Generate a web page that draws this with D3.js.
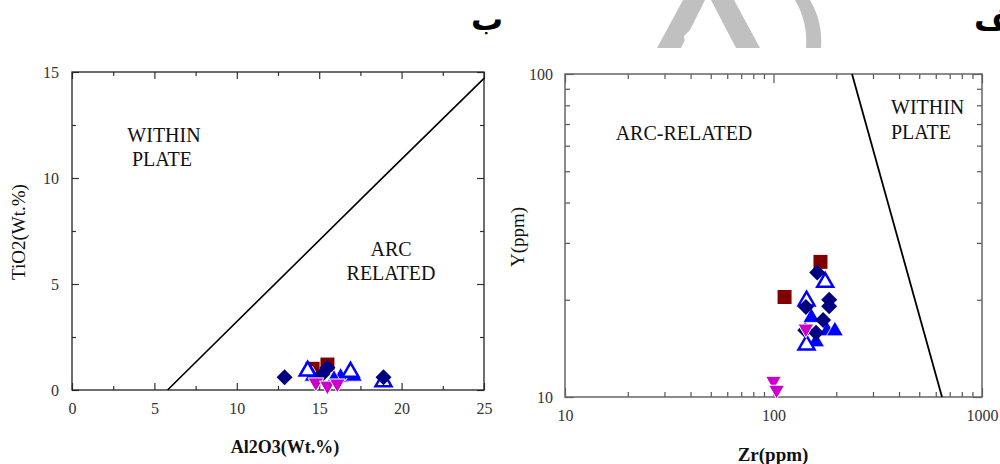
<!DOCTYPE html>
<html><head><meta charset="utf-8">
<script src="https://cdn.jsdelivr.net/npm/d3@7"></script>
<style>body{margin:0;background:#fff}svg{display:block}
.serif{font-family:"Liberation Serif","Times New Roman",Times,"DejaVu Serif",serif}
.fa{font-family:"DejaVu Sans","Noto Sans",sans-serif;font-weight:bold}
</style>
</head><body>
<svg id="c" width="1000" height="464"></svg>
<script>
// ---------- DATA ----------
// Left diagram: Al2O3 vs TiO2
const leftXTicks = [0,5,10,15,20,25];
const leftYTicks = [0,5,10,15];
const leftBoundary = [[5.8,0],[18.7,9.9],[25,14.7]];
const leftSquares = [[14.6,1.0],[15.5,1.2]];
const leftDiamonds = [[12.9,0.6],[18.9,0.6],[15.5,1.05],[15.2,0.75]];
const leftTrianglesFilled = [[14.6,0.6],[16.3,0.55],[17.1,0.6],[15.9,0.45]];
const leftTrianglesOpen = [[14.3,0.85],[16.9,0.8],[18.9,0.35]];
const leftInverted = [[14.8,0.4],[15.5,0.25],[16.1,0.35]];

// Right diagram: Zr vs Y (log-log)
const rightXTicks = [10,100,1000];
const rightYTicks = [10,100];
const rightBoundary = [[238,100],[643,10]];
const rightSquares = [[168,26.2],[113,20.4]];
const rightDiamonds = [[162,24.3],[185,20.0],[185,19.1],[173,17.3],[142,16.1],[160,15.8],[143,19.0]];
const rightTrianglesFilled = [[152,17.5],[181,15.9],[197,15.9],[160,14.7]];
const rightTrianglesOpen = [[177,22.5],[144,19.7],[144,14.4]];
const rightInverted = [[143,16.4],[100,11.3],[103.5,10.6]];

const svg = d3.select("#c");
const C = {sq:"#800000", di:"#000080", tri:"#0000ff", inv:"#cc00cc"};

// watermark
const wm = svg.append("g").attr("fill","#c0c0c0");
wm.append("path").attr("d","M657,48 L681,48 L705,0 L683,0 Z");
wm.append("path").attr("d","M711,0 L734,0 L760,48 L736,48 Z");
wm.append("path").attr("d","M795,0 L810,0 Q823,22 821,48 L806,48 Q808,22 795,0 Z");
wm.append("path").attr("d","M684,36 L690,30 L693,48 L686,48 Z").attr("fill","#fff");

// Persian panel labels
svg.append("text").attr("class","fa").attr("x",487).attr("y",30).attr("text-anchor","middle").attr("font-size",32).text("ب");
svg.append("text").attr("class","fa").attr("x",974).attr("y",30).attr("text-anchor","start").attr("font-size",32).text("الف");

function markers(g, x, y, sq, di, trf, tro, inv){
  g.selectAll(".sq").data(sq).join("path").attr("class","sq")
    .attr("d", d3.symbol(d3.symbolSquare, 196)())
    .attr("transform", d=>`translate(${x(d[0])},${y(d[1])})`).attr("fill",C.sq);
  g.selectAll(".trf").data(trf).join("path").attr("class","trf")
    .attr("d", d3.symbol(d3.symbolTriangle, 125)())
    .attr("transform", d=>`translate(${x(d[0])},${y(d[1])-1})`).attr("fill",C.tri).attr("stroke","#fff").attr("stroke-width",0.8);
  g.selectAll(".tro").data(tro).join("path").attr("class","tro")
    .attr("d", d3.symbol(d3.symbolTriangle, 110)())
    .attr("transform", d=>`translate(${x(d[0])},${y(d[1])-1})`).attr("fill","#fff").attr("stroke",C.tri).attr("stroke-width",2.5);
  g.selectAll(".di").data(di).join("path").attr("class","di")
    .attr("d", d3.symbol(d3.symbolSquare, 128)())
    .attr("transform", d=>`translate(${x(d[0])},${y(d[1])}) rotate(45)`).attr("fill",C.di);
  g.selectAll(".inv").data(inv).join("path").attr("class","inv")
    .attr("d", d3.symbol(d3.symbolTriangle, 110)())
    .attr("transform", d=>`translate(${x(d[0])},${y(d[1])+1}) rotate(180)`).attr("fill",C.inv).attr("stroke","#fff").attr("stroke-width",1);
}

function styleAxis(g, showLabels, col){
  g.select(".domain").remove();
  g.selectAll(".tick line").attr("stroke",col||"#333").attr("stroke-width",1.2);
  g.selectAll(".tick text").attr("class","serif").attr("font-family",null).attr("font-size",16).attr("fill","#333");
  if(!showLabels) g.selectAll(".tick text").remove();
}
function label(g,s,xx,yy,anc,bold,size){
  return g.append("text").attr("class","serif").attr("x",xx).attr("y",yy).attr("text-anchor",anc||"middle")
    .attr("font-size",size||20).attr("font-weight",bold?"bold":"normal").attr("fill","#111").text(s);
}

// ---------- LEFT ----------
{
  const x = d3.scaleLinear().domain([0,25]).range([72,484]);
  const y = d3.scaleLinear().domain([0,15]).range([390,72]);
  const g = svg.append("g");
  const minorX = d3.range(2.5,25,5), minorY = d3.range(2.5,15,5);
  g.append("g").attr("transform","translate(0,390)").call(d3.axisBottom(x).tickValues(leftXTicks).tickSize(-7).tickPadding(13)).call(a=>styleAxis(a,true));
  g.append("g").attr("transform","translate(0,390)").call(d3.axisBottom(x).tickValues(minorX).tickSize(-4)).call(a=>styleAxis(a,false));
  g.append("g").attr("transform","translate(0,72)").call(d3.axisTop(x).tickValues(leftXTicks).tickSize(-7)).call(a=>styleAxis(a,false));
  g.append("g").attr("transform","translate(0,72)").call(d3.axisTop(x).tickValues(minorX).tickSize(-4)).call(a=>styleAxis(a,false));
  g.append("g").attr("transform","translate(72,0)").call(d3.axisLeft(y).tickValues(leftYTicks).tickSize(-7).tickPadding(13)).call(a=>styleAxis(a,true));
  g.append("g").attr("transform","translate(72,0)").call(d3.axisLeft(y).tickValues(minorY).tickSize(-4)).call(a=>styleAxis(a,false));
  g.append("g").attr("transform","translate(484,0)").call(d3.axisRight(y).tickValues(leftYTicks).tickSize(-7)).call(a=>styleAxis(a,false));
  g.append("g").attr("transform","translate(484,0)").call(d3.axisRight(y).tickValues(minorY).tickSize(-4)).call(a=>styleAxis(a,false));
  g.append("rect").attr("x",72).attr("y",72).attr("width",412).attr("height",318).attr("fill","none").attr("stroke","#222").attr("stroke-width",1.3);
  g.append("path").attr("d", d3.line().x(d=>x(d[0])).y(d=>y(d[1]))(leftBoundary)).attr("fill","none").attr("stroke","#000").attr("stroke-width",1.6);
  label(g,"WITHIN",164,142); label(g,"PLATE",162,166); label(g,"ARC",391,256); label(g,"RELATED",391,280);
  markers(g.append("g"), x, y, leftSquares, leftDiamonds, leftTrianglesFilled, leftTrianglesOpen, leftInverted);
  label(g,"Al2O3(Wt.%)",285,453,"middle",true,18);
  label(g,"TiO2(Wt.%)",0,0,"middle",false,19).attr("x",null).attr("y",null).attr("transform","translate(25,232) rotate(-90)");
}

// ---------- RIGHT ----------
{
  const x = d3.scaleLog().domain([10,1000]).range([565,982]);
  const y = d3.scaleLog().domain([10,100]).range([397,74]);
  const g = svg.append("g");
  const minorX = [20,30,40,50,60,70,80,90,200,300,400,500,600,700,800,900];
  const minorY = [20,30,40,50,60,70,80,90];
  const tc = "#555";
  g.append("g").attr("transform","translate(0,397)").call(d3.axisBottom(x).tickValues(rightXTicks).tickFormat(d3.format("d")).tickSize(-9).tickPadding(13)).call(a=>styleAxis(a,true,tc));
  g.append("g").attr("transform","translate(0,397)").call(d3.axisBottom(x).tickValues(minorX).tickSize(-5)).call(a=>styleAxis(a,false,tc));
  g.append("g").attr("transform","translate(0,74)").call(d3.axisTop(x).tickValues(rightXTicks).tickSize(-9)).call(a=>styleAxis(a,false,tc));
  g.append("g").attr("transform","translate(0,74)").call(d3.axisTop(x).tickValues(minorX).tickSize(-5)).call(a=>styleAxis(a,false,tc));
  g.append("g").attr("transform","translate(565,0)").call(d3.axisLeft(y).tickValues(rightYTicks).tickFormat(d3.format("d")).tickSize(-9).tickPadding(12)).call(a=>styleAxis(a,true,tc));
  g.append("g").attr("transform","translate(565,0)").call(d3.axisLeft(y).tickValues(minorY).tickSize(-5)).call(a=>styleAxis(a,false,tc));
  g.append("g").attr("transform","translate(982,0)").call(d3.axisRight(y).tickValues(rightYTicks).tickSize(-9)).call(a=>styleAxis(a,false,tc));
  g.append("g").attr("transform","translate(982,0)").call(d3.axisRight(y).tickValues(minorY).tickSize(-5)).call(a=>styleAxis(a,false,tc));
  g.append("rect").attr("x",565).attr("y",74).attr("width",417).attr("height",323).attr("fill","none").attr("stroke","#666").attr("stroke-width",1.5);
  g.append("path").attr("d", d3.line().x(d=>x(d[0])).y(d=>y(d[1]))(rightBoundary)).attr("fill","none").attr("stroke","#000").attr("stroke-width",1.8);
  label(g,"ARC-RELATED",684,140); label(g,"WITHIN",891,114,"start"); label(g,"PLATE",891,139,"start");
  markers(g.append("g"), x, y, rightSquares, rightDiamonds, rightTrianglesFilled, rightTrianglesOpen, rightInverted);
  label(g,"Zr(ppm)",773,461,"middle",true,19);
  label(g,"Y(ppm)",0,0,"middle",false,19).attr("x",null).attr("y",null).attr("transform","translate(524,237) rotate(-90)");
}
</script>
</body></html>
